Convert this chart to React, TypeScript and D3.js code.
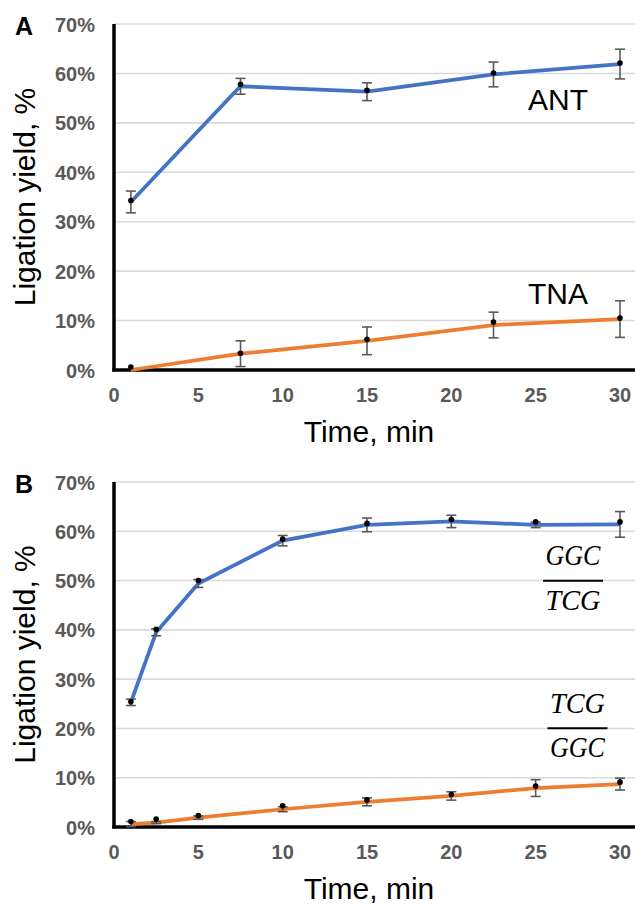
import * as d3 from "d3";
import React from "react";

// panel A: ANT vs TNA
const timesA = [1, 7.5, 15, 22.5, 30];
const antLine = [34.0, 57.4, 56.3, 59.8, 61.9];
const antErr = [2.2, 1.6, 1.8, 2.5, 3.0];
const antDots = [34.3, 57.8, 56.6, 60.1, 62.1];
const tnaLine = [0, 3.3, 5.9, 9.1, 10.3];
const tnaErr = [0, 2.6, 2.8, 2.6, 3.7];
const tnaDots = [0.6, 3.4, 6.2, 9.7, 10.5];

// panel B: GGC/TCG vs TCG/GGC
const timesB = [1, 2.5, 5, 10, 15, 20, 25, 30];
const ggcLine = [25.3, 39.5, 49.4, 58.1, 61.3, 62.0, 61.3, 61.4];
const ggcErr = [0.65, 0.7, 0.8, 1.05, 1.4, 1.25, 0.55, 2.6];
const ggcDots = [25.4, 40.1, 50.0, 58.4, 61.6, 62.4, 61.9, 61.9];
const tcgLine = [0.6, 0.9, 1.9, 3.6, 5.1, 6.3, 7.9, 8.7];
const tcgErr = [0.5, 0.2, 0.35, 0.5, 0.8, 0.85, 1.7, 1.2];
const tcgDots = [1.1, 1.6, 2.3, 4.3, 5.5, 6.6, 8.3, 9.1];

const yTicks = [0, 10, 20, 30, 40, 50, 60, 70];
const xTicks = [0, 5, 10, 15, 20, 25, 30];

const sans = "Liberation Sans, Arial, sans-serif";
const serif = "Liberation Serif, Times New Roman, serif";
const blue = "#4472c4";
const orange = "#ed7d31";
const gray = "#595959";

type Series = { line: number[]; err: number[]; dots: number[]; color: string };

function Panel(props: {
  letter: string;
  top: number;
  bottom: number;
  times: number[];
  series: Series[];
  children?: React.ReactNode;
}) {
  const { top, bottom, times } = props;
  const x = d3.scaleLinear().domain([0, 30]).range([114, 620]);
  const y = d3.scaleLinear().domain([0, 70]).range([bottom, top]);
  const right = 635;
  const mid = (top + bottom) / 2;

  const line = d3
    .line<number>()
    .x((d, i) => x(times[i]))
    .y((d) => y(d));

  return (
    <g>
      <text x={15} y={top + 11} fontFamily={sans} fontWeight="bold" fontSize={25}>
        {props.letter}
      </text>
      {/* gridlines */}
      {yTicks.map((t) => (
        <line key={t} x1={x(0)} x2={right} y1={y(t)} y2={y(t)} stroke="#d9d9d9" strokeWidth={1.6} />
      ))}
      {yTicks.map((t) => (
        <text
          key={"l" + t}
          x={95}
          y={y(t) + 7.5}
          textAnchor="end"
          fontFamily={sans}
          fontWeight="bold"
          fontSize={20}
          fill={gray}
        >
          {t}%
        </text>
      ))}
      {xTicks.map((t) => (
        <text
          key={"x" + t}
          x={x(t)}
          y={bottom + 32}
          textAnchor="middle"
          fontFamily={sans}
          fontWeight="bold"
          fontSize={20}
          fill={gray}
        >
          {t}
        </text>
      ))}
      {/* axes */}
      <line x1={x(0)} x2={x(0)} y1={y(70)} y2={bottom + 1.5} stroke="#000" strokeWidth={3.5} />
      <line x1={x(0) - 1.75} x2={right} y1={bottom} y2={bottom} stroke="#000" strokeWidth={3.5} />

      {props.series.map((s, k) => (
        <g key={k}>
          <path d={line(s.line) || ""} fill="none" stroke={s.color} strokeWidth={3.75} />
          {s.line.map((v, i) =>
            s.err[i] > 0 ? (
              <g key={i} stroke={gray} strokeWidth={1.6}>
                <line x1={x(times[i])} x2={x(times[i])} y1={y(v + s.err[i])} y2={y(v - s.err[i])} />
                <line x1={x(times[i]) - 5} x2={x(times[i]) + 5} y1={y(v + s.err[i])} y2={y(v + s.err[i])} />
                <line x1={x(times[i]) - 5} x2={x(times[i]) + 5} y1={y(v - s.err[i])} y2={y(v - s.err[i])} />
              </g>
            ) : null
          )}
          {s.dots.map((v, i) => (
            <circle key={"d" + i} cx={x(times[i])} cy={y(v)} r={2.8} fill="#000" />
          ))}
        </g>
      ))}

      <text
        transform={`translate(35, ${mid}) rotate(-90)`}
        textAnchor="middle"
        fontFamily={sans}
        fontSize={30}
      >
        Ligation yield, %
      </text>
      <text x={369} y={bottom + 72} textAnchor="middle" fontFamily={sans} fontSize={30}>
        Time, min
      </text>
      {props.children}
    </g>
  );
}

function Fraction(props: { cx: number; bar: number; num: string; den: string }) {
  const { cx, bar } = props;
  const common = {
    textAnchor: "middle" as const,
    fontFamily: serif,
    fontStyle: "italic",
    fontSize: 30,
    textLength: 55,
    lengthAdjust: "spacingAndGlyphs" as const,
  };
  return (
    <g>
      <text x={cx} y={bar - 15.5} {...common}>
        {props.num}
      </text>
      <line x1={cx - 30} x2={cx + 30} y1={bar} y2={bar} stroke="#000" strokeWidth={2} />
      <text x={cx} y={bar + 29} {...common}>
        {props.den}
      </text>
    </g>
  );
}

export default function App() {
  return (
    <svg
      width={635}
      height={906}
      style={{ position: "absolute", left: 0, top: 0, background: "#fff" }}
    >
      <Panel
        letter="A"
        top={24}
        bottom={370}
        times={timesA}
        series={[
          { line: antLine, err: antErr, dots: antDots, color: blue },
          { line: tnaLine, err: tnaErr, dots: tnaDots, color: orange },
        ]}
      >
        <text x={528} y={110} fontFamily={sans} fontSize={30}>
          ANT
        </text>
        <text x={528} y={304} fontFamily={sans} fontSize={30}>
          TNA
        </text>
      </Panel>
      <Panel
        letter="B"
        top={482}
        bottom={827}
        times={timesB}
        series={[
          { line: ggcLine, err: ggcErr, dots: ggcDots, color: blue },
          { line: tcgLine, err: tcgErr, dots: tcgDots, color: orange },
        ]}
      >
        <Fraction cx={573} bar={580.7} num="GGC" den="TCG" />
        <Fraction cx={577.5} bar={728.3} num="TCG" den="GGC" />
      </Panel>
    </svg>
  );
}
